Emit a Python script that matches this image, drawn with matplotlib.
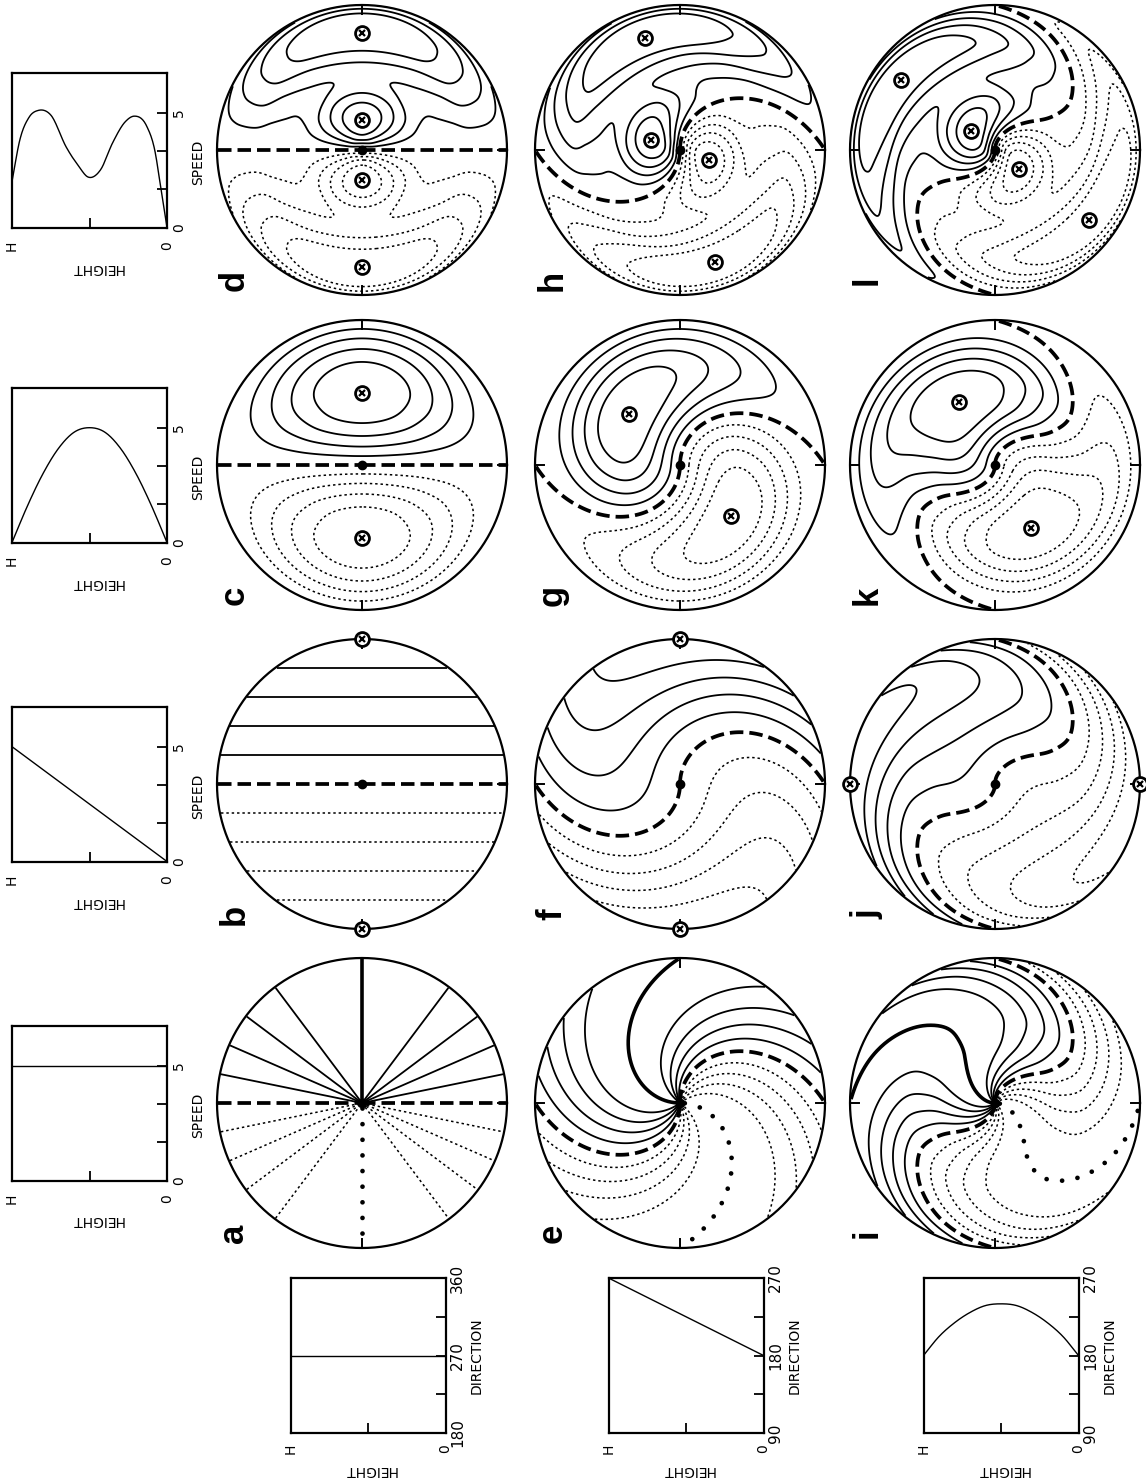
import numpy as np
import matplotlib
matplotlib.use("Agg")
import matplotlib.pyplot as plt

# ------------------------------------------------------------------
# DATA
# height is given as fraction of the top height H (0 = ground, 1 = H)
# ------------------------------------------------------------------
# wind-speed profiles (columns a/e/i, b/f/j, c/g/k, d/h/l)
speed_const_z = [0.0, 1.0]
speed_const_s = [5.0, 5.0]
speed_linear_z = [0.0, 1.0]
speed_linear_s = [0.0, 5.0]
speed_parab_z = [0.0, 0.1, 0.2, 0.3, 0.4, 0.5, 0.6, 0.7, 0.8, 0.9, 1.0]
speed_parab_s = [0.0, 1.6, 3.0, 4.1, 4.8, 5.0, 4.8, 4.1, 3.0, 1.6, 0.0]
speed_hump_z = [0.0, 0.035, 0.08, 0.13, 0.21, 0.27, 0.35, 0.43, 0.51,
                0.57, 0.65, 0.75, 0.83, 0.89, 0.95, 1.0]
speed_hump_s = [0.0, 1.5, 3.4, 4.4, 4.85, 4.6, 3.7, 2.5, 2.2,
                2.67, 3.5, 4.9, 5.1, 4.8, 3.8, 2.0]

# wind-direction profiles (rows a-d, e-h, i-l), degrees
dir_const_z = [0.0, 1.0]
dir_const_d = [270.0, 270.0]
dir_linear_z = [0.0, 1.0]
dir_linear_d = [180.0, 270.0]
dir_parab_z = [0.0, 0.1, 0.2, 0.3, 0.4, 0.5, 0.6, 0.7, 0.8, 0.9, 1.0]
dir_parab_d = [180.0, 202.0, 218.0, 230.0, 238.0, 240.0, 238.0, 230.0, 218.0, 202.0, 180.0]

speed_profiles = [(speed_const_z, speed_const_s), (speed_linear_z, speed_linear_s),
                  (speed_parab_z, speed_parab_s), (speed_hump_z, speed_hump_s)]
dir_profiles = [(dir_const_z, dir_const_d), (dir_linear_z, dir_linear_d),
                (dir_parab_z, dir_parab_d)]

panel_letters = [["a", "b", "c", "d"], ["e", "f", "g", "h"], ["i", "j", "k", "l"]]

speed_ticks = [0.0, 5.0 / 3.0, 10.0 / 3.0, 5.0]
speed_ticklabels = ["0", "", "", "5"]
speed_max_axis = 6.75

dir_ranges = [(180, 360), (90, 270), (90, 270)]
dir_tick_step = 45

pos_levels = [1, 2, 3, 4]
neg_levels = [-4, -3, -2, -1]

# ------------------------------------------------------------------
W, H = 1146, 1480
fig = plt.figure(figsize=(W / 100, H / 100), dpi=100)
fig.patch.set_facecolor("white")

col_x = [362, 680, 995]            # circle centres (px) for the three direction rows
row_y = [1103, 784, 465, 150]      # circle centres (px) for the four speed columns
R = 145                            # circle radius (px)

FONT = dict(family="DejaVu Sans", fontsize=10, color="black")


def px_axes(x0, ytop, w, h):
    return fig.add_axes([x0 / W, 1 - (ytop + h) / H, w / W, h / H])


def ftext(x, y, s, **kw):
    d = dict(FONT)
    d.update(kw)
    fig.text(x / W, 1 - y / H, s, ha="center", va="center", **d)


def smooth(zq, z, v):
    z = np.asarray(z, float)
    v = np.asarray(v, float)
    if len(z) == 2:
        return np.interp(zq, z, v)
    m = np.gradient(v, z)
    idx = np.clip(np.searchsorted(z, zq, side="right") - 1, 0, len(z) - 2)
    h = z[idx + 1] - z[idx]
    t = (zq - z[idx]) / h
    h00 = 2 * t**3 - 3 * t**2 + 1
    h10 = t**3 - 2 * t**2 + t
    h01 = -2 * t**3 + 3 * t**2
    h11 = t**3 - t**2
    return h00 * v[idx] + h10 * h * m[idx] + h01 * v[idx + 1] + h11 * h * m[idx + 1]


zr = np.linspace(0, 0.993, 241)
ph = np.deg2rad(np.linspace(0.13, 360.13, 1441))

# ---------------- PPI circles ----------------
m = 1.1
for i in range(3):
    dz, dd = dir_profiles[i]
    D = np.deg2rad(smooth(zr, dz, dd))
    for j in range(4):
        sz, ss = speed_profiles[j]
        S = smooth(zr, sz, ss)
        cx, cy = col_x[i], row_y[j]
        size = 2 * m * R
        ax = px_axes(cx - m * R, cy - m * R, size, size)
        ax.set_xlim(-m, m)
        ax.set_ylim(-m, m)
        ax.set_aspect("equal")
        ax.axis("off")

        V = -S[:, None] * np.cos(ph[None, :] - D[:, None])
        X = -zr[:, None] * np.cos(ph[None, :])
        Y = zr[:, None] * np.sin(ph[None, :])

        ax.contour(X, Y, V, levels=pos_levels, colors="k", linewidths=1.3,
                   linestyles="solid")
        cn = ax.contour(X, Y, V, levels=neg_levels, colors="k", linewidths=1.1)
        cn.set_linestyle((0, (1.6, 1.9)))
        c0 = ax.contour(X, Y, V, levels=[0], colors="k", linewidths=2.7)
        c0.set_linestyle((0, (3.6, 1.6)))

        if np.ptp(ss) == 0:
            # constant speed: lines of extreme radial velocity
            pp = D + np.pi
            ax.plot(-zr * np.cos(pp), zr * np.sin(pp), color="k", lw=2.6,
                    solid_capstyle="butt")
            ax.plot(-zr[8:] * np.cos(D[8:]), zr[8:] * np.sin(D[8:]), color="k",
                    lw=3.4, linestyle=(0, (0.01, 3.3)), dash_capstyle="round")
        else:
            zz = np.linspace(0, 1, 401)
            SS = smooth(zz, sz, ss)
            DD = np.deg2rad(smooth(zz, dz, dd))
            n = len(zz)
            for k in range(1, n):
                left = SS[k - 1]
                right = SS[k + 1] if k < n - 1 else -np.inf
                if SS[k] > left and SS[k] >= right:
                    for ang in (DD[k] + np.pi, DD[k]):
                        x, y = -zz[k] * np.cos(ang), zz[k] * np.sin(ang)
                        ax.plot(x, y, marker="o", ms=10, mfc="white", mec="k",
                                mew=2.0, zorder=6)
                        ax.plot(x, y, marker="x", ms=5, mew=1.6, color="k", zorder=7)

        th = np.linspace(0, 2 * np.pi, 721)
        ax.plot(np.cos(th), np.sin(th), color="k", lw=1.6, zorder=5)
        for dx, dy in [(0, 1), (0, -1), (1, 0), (-1, 0)]:
            ax.plot([dx, 0.94 * dx], [dy, 0.94 * dy], color="k", lw=1.4, zorder=5)
        ax.plot(0, 0, marker="o", ms=6, color="k", zorder=6)

        ftext(cx - 128, cy + 130, panel_letters[i][j], rotation=90,
              fontsize=25, fontweight="bold", family="Liberation Sans")

# ---------------- speed profile boxes ----------------
BW = 155
zd = np.linspace(0, 1, 301)
for j in range(4):
    sz, ss = speed_profiles[j]
    yc = row_y[j]
    top = yc - BW / 2
    ax = px_axes(12, top, BW, BW)
    ax.plot(zd, smooth(zd, sz, ss), color="k", lw=1.0)
    ax.set_xlim(1, 0)
    ax.set_ylim(0, speed_max_axis)
    ax.set_xticks([0.5])
    ax.set_xticklabels([])
    ax.yaxis.tick_right()
    ax.set_yticks(speed_ticks)
    ax.set_yticklabels([])
    ax.tick_params(direction="in", length=7, width=1.3)
    for sp in ax.spines.values():
        sp.set_linewidth(1.6)
    bottom = top + BW
    for val, lab in zip(speed_ticks, speed_ticklabels):
        if lab:
            ftext(179, bottom - val / speed_max_axis * BW, lab, rotation=90)
    ftext(198, yc + 12, "SPEED", rotation=90)
    ftext(12, bottom + 18, "H", rotation=90)
    ftext(167, bottom + 18, "0", rotation=90)
    ftext(97, bottom + 40, "HEIGHT", rotation=180)

# ---------------- direction profile boxes ----------------
for i in range(3):
    dz, dd = dir_profiles[i]
    lo, hi = dir_ranges[i]
    x0 = col_x[i] + 6 - BW / 2
    top = 1278
    ax = px_axes(x0, top, BW, BW)
    ax.plot(zd, smooth(zd, dz, dd), color="k", lw=1.0)
    ax.set_xlim(1, 0)
    ax.set_ylim(lo, hi)
    ax.set_xticks([0.5])
    ax.set_xticklabels([])
    ax.yaxis.tick_right()
    ticks = np.arange(lo, hi + 1, dir_tick_step)
    ax.set_yticks(ticks)
    ax.set_yticklabels([])
    ax.tick_params(direction="in", length=7, width=1.3)
    for sp in ax.spines.values():
        sp.set_linewidth(1.6)
    bottom = top + BW
    x1 = x0 + BW
    for t in ticks[::2]:
        ftext(x1 + 12, bottom - (t - lo) / (hi - lo) * BW, str(int(t)), rotation=90,
              fontsize=11)
    ftext(x1 + 31, top + BW / 2, "DIRECTION", rotation=90)
    ftext(x0, bottom + 16, "H", rotation=90)
    ftext(x1, bottom + 16, "0", rotation=90)
    ftext(x0 + BW / 2 + 2, bottom + 37, "HEIGHT", rotation=180)

fig.savefig("out.png", dpi=100, facecolor="white")
